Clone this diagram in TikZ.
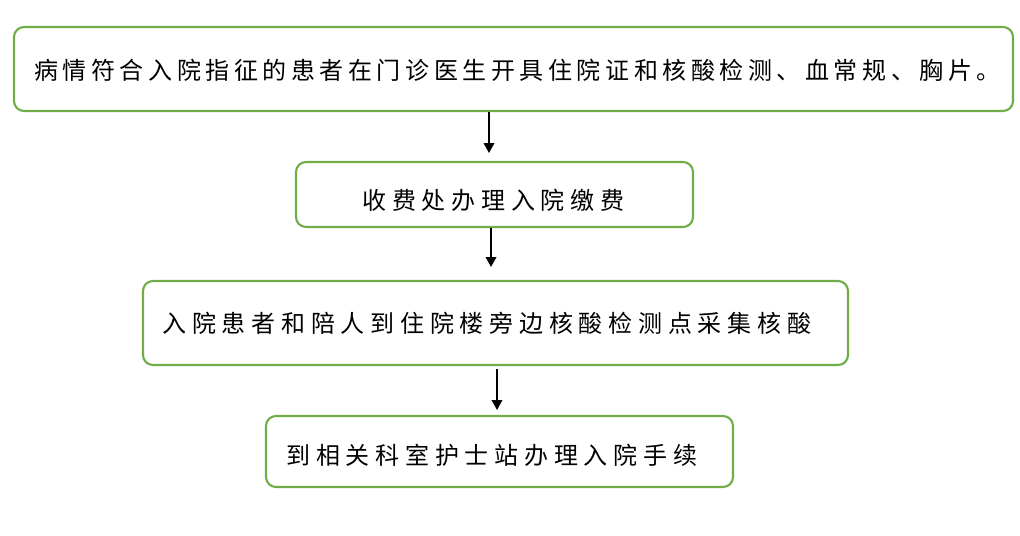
\documentclass[tikz,border=0pt]{standalone}
\usepackage{fontspec}
\usetikzlibrary{arrows.meta}
\newfontfamily\cjkA{Noto Sans CJK SC}[LetterSpace=19]
\newfontfamily\cjkB{Noto Sans CJK SC}[LetterSpace=24]
\definecolor{boxgreen}{HTML}{70AD47}
\begin{document}
\begin{tikzpicture}[x=0.75pt,y=-0.75pt,
  flowbox/.style={draw=boxgreen, line width=1.6pt, rounded corners=7.5pt, fill=white, inner sep=0pt},
  steptext/.style={anchor=west, inner sep=0pt, font=\fontsize{18}{22}\cjkB},
  flowarrow/.style={-{Triangle[width=8pt,length=7.5pt]}, line width=1.1pt, black}]
\useasboundingbox (0,0) rectangle (1020,535);
\node[flowbox, minimum width=749.25pt, minimum height=63pt] (b1) at (513.5,69) {};
\node[flowbox, minimum width=297.75pt, minimum height=48.75pt] (b2) at (494.5,194.5) {};
\node[flowbox, minimum width=528.75pt, minimum height=63pt] (b3) at (495.5,323) {};
\node[flowbox, minimum width=350.25pt, minimum height=53.25pt] (b4) at (499.5,451.5) {};
\node[steptext, font=\fontsize{18}{22}\cjkA] (t1) at (34,70) {病情符合入院指征的患者在门诊医生开具住院证和核酸检测、血常规、胸片。};
\node[steptext] (t2) at (362,200) {收费处办理入院缴费};
\node[steptext] (t3) at (162,323) {入院患者和陪人到住院楼旁边核酸检测点采集核酸};
\node[steptext] (t4) at (286,455) {到相关科室护士站办理入院手续};
\coordinate (e1) at (489,153);
\coordinate (e2) at (491,267);
\coordinate (e3) at (497,410);
\draw[flowarrow] (b1.south -| e1) -- (e1);
\draw[flowarrow] (b2.south -| e2) -- (e2);
\draw[flowarrow] ([yshift=-2.25pt]b3.south -| e3) -- (e3);
\end{tikzpicture}
\end{document}
